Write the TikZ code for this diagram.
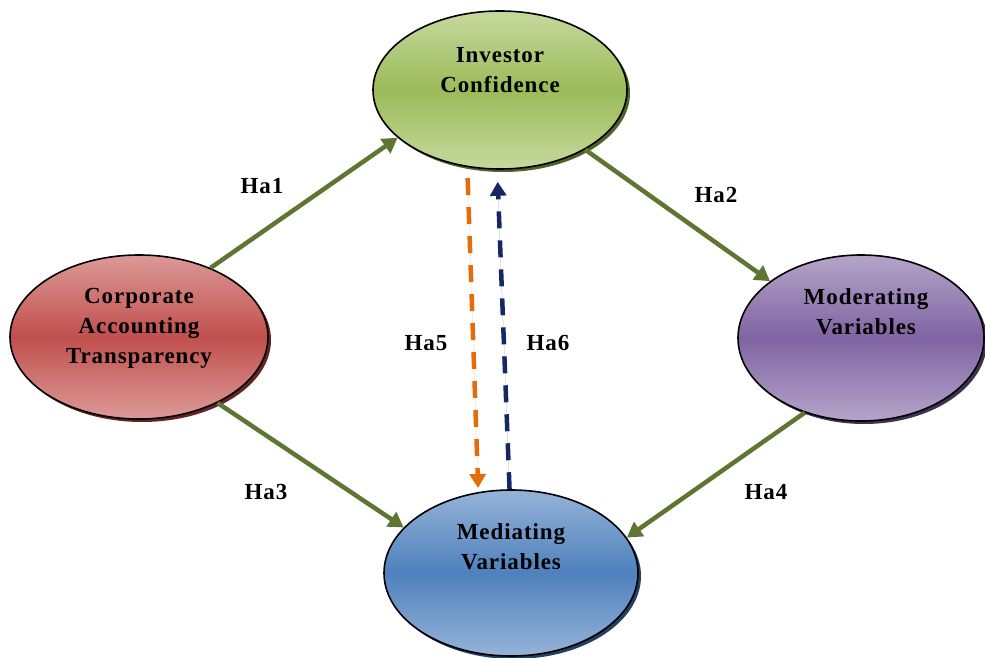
\documentclass[tikz,border=0pt]{standalone}
\usepackage{fontspec}
\setmainfont{Liberation Serif}[LetterSpace=4]
\usetikzlibrary{shapes.geometric,arrows.meta,shadows}
\definecolor{gmid}{RGB}{155,187,89}
\definecolor{glight}{RGB}{198,217,158}
\definecolor{gdark}{RGB}{79,98,40}
\definecolor{rmid}{RGB}{192,80,77}
\definecolor{rlight}{RGB}{220,153,151}
\definecolor{rdark}{RGB}{99,37,35}
\definecolor{pmid}{RGB}{128,100,162}
\definecolor{plight}{RGB}{180,164,201}
\definecolor{pdark}{RGB}{63,49,81}
\definecolor{bmid}{RGB}{79,129,189}
\definecolor{blight}{RGB}{149,179,215}
\definecolor{bdark}{RGB}{36,64,97}
\definecolor{arrowgreen}{RGB}{95,117,50}
\definecolor{arroworange}{RGB}{228,108,10}
\definecolor{arrownavy}{RGB}{22,40,100}
\tikzset{
  bubble/.style={ellipse, draw=black, line width=1.6pt, inner sep=0pt},
  bubbletext/.style={font=\fontsize{23}{30}\selectfont\bfseries, align=center, inner sep=0pt, text=black},
  hlabel/.style={font=\fontsize{23}{30}\selectfont\bfseries, inner sep=0pt, text=black},
  greenarrow/.style={draw=arrowgreen, line width=4.5pt, -{Triangle[length=15pt,width=17pt]}},
  dasharrow/.style={line width=4.5pt, dash pattern=on 17pt off 12pt, -{Triangle[length=14pt,width=16pt]}}
}
\begin{document}
\begin{tikzpicture}[x=1pt,y=-1pt]
\useasboundingbox (0,0) rectangle (985,658);
% ellipses
\node[bubble, minimum width=254pt, minimum height=158pt,
  top color=glight, bottom color=glight, middle color=gmid,
  drop shadow={shadow xshift=3pt, shadow yshift=-3pt, fill=gdark, opacity=1}] (ic) at (500,90) {};
\node[bubble, minimum width=258pt, minimum height=164pt,
  top color=rlight, bottom color=rlight, middle color=rmid,
  drop shadow={shadow xshift=3pt, shadow yshift=-3pt, fill=rdark, opacity=1}] (cat) at (139,337) {};
\node[bubble, minimum width=246pt, minimum height=166pt,
  top color=plight, bottom color=plight, middle color=pmid,
  drop shadow={shadow xshift=3pt, shadow yshift=-3pt, fill=pdark, opacity=1}] (mod) at (861,338) {};
\node[bubble, minimum width=254pt, minimum height=166pt,
  top color=blight, bottom color=blight, middle color=bmid,
  drop shadow={shadow xshift=3pt, shadow yshift=-3pt, fill=bdark, opacity=1}] (med) at (511,573) {};
% texts
\node[bubbletext] (icT) at (500,70) {Investor\\Confidence};
\node[bubbletext] (catT) at (139,328) {Corporate\\Accounting\\Transparency};
\node[bubbletext] (modT) at (866,312) {Moderating\\Variables};
\node[bubbletext] (medT) at (511,547) {Mediating\\Variables};
% connectors
\draw[greenarrow] (cat.44) -- (ic.205);
\draw[greenarrow] (ic.325) -- (mod.148);
\draw[greenarrow] (cat.320) -- (med.157);
\draw[greenarrow] (mod.233) -- (med.17);
\draw[dasharrow, draw=arroworange, fill=arroworange, shorten <=11pt, shorten >=4pt] (ic.247) -- (med.112);
\draw[dasharrow, draw=arrownavy, fill=arrownavy, shorten >=12pt] (med.91) -- (ic.268);
% labels
\node[hlabel] (ha1) at (262,186) {Ha1};
\node[hlabel] (ha2) at (716,195) {Ha2};
\node[hlabel] (ha3) at (266,492) {Ha3};
\node[hlabel] (ha4) at (766,492) {Ha4};
\node[hlabel] (ha5) at (426,343) {Ha5};
\node[hlabel] (ha6) at (548,343) {Ha6};
\end{tikzpicture}
\end{document}
